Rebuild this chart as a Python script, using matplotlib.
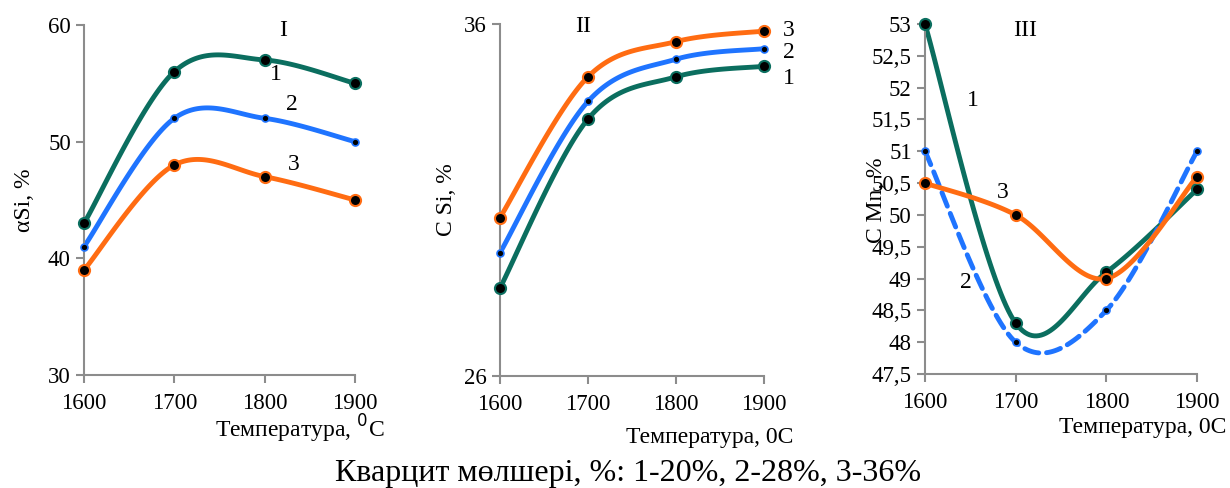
import matplotlib
matplotlib.use("Agg")
import matplotlib.pyplot as plt
import numpy as np

plt.rcParams['font.family'] = ['Liberation Serif', 'DejaVu Serif']

# Data
temps = [1600, 1700, 1800, 1900]

si_alpha_1 = [43, 56, 57, 55]
si_alpha_2 = [41, 52, 52, 50]
si_alpha_3 = [39, 48, 47, 45]

c_si_1 = [28.5, 33.3, 34.5, 34.8]
c_si_2 = [29.5, 33.8, 35.0, 35.3]
c_si_3 = [30.5, 34.5, 35.5, 35.8]

c_mn_1 = [53.0, 48.3, 49.1, 50.4]
c_mn_2 = [51.0, 48.0, 48.5, 51.0]
c_mn_3 = [50.5, 50.0, 49.0, 50.6]

GREEN = "#0b6e5f"
BLUE = "#1f74ff"
ORANGE = "#ff6c12"
AXC = "#8c8c8c"
FS = 17


def smooth(x, y, n=40):
    # Excel-like smoothed line: cubic Bezier with Catmull-Rom control points
    x = np.asarray(x, float)
    y = np.asarray(y, float)
    px = np.concatenate([[x[0]], x, [x[-1]]])
    py = np.concatenate([[y[0]], y, [y[-1]]])
    xs, ys = [], []
    t = np.linspace(0, 1, n)
    for i in range(1, len(px) - 2):
        p0 = np.array([px[i], py[i]])
        p3 = np.array([px[i + 1], py[i + 1]])
        p1 = p0 + (np.array([px[i + 1], py[i + 1]]) - np.array([px[i - 1], py[i - 1]])) / 6
        p2 = p3 - (np.array([px[i + 2], py[i + 2]]) - np.array([px[i], py[i]])) / 6
        b = ((1 - t) ** 3)[:, None] * p0 + (3 * (1 - t) ** 2 * t)[:, None] * p1 \
            + (3 * (1 - t) * t ** 2)[:, None] * p2 + (t ** 3)[:, None] * p3
        xs.append(b[:, 0])
        ys.append(b[:, 1])
    return np.concatenate(xs), np.concatenate(ys)


def draw(ax, y, color, big=True, dashed=False):
    sx, sy = smooth(temps, y)
    ax.plot(sx, sy, color=color, lw=3.5, ls=(0, (3, 1.6)) if dashed else '-',
            solid_capstyle='round', dash_capstyle='round', clip_on=False, zorder=2)
    ax.plot(temps, y, ls='none', marker='o', ms=8 if big else 5,
            mfc='black', mec=color, mew=1.5 if big else 1.2, clip_on=False, zorder=3)


def style(ax, ylim, yticks, ylabels=None):
    ax.set_xlim(1600, 1900)
    ax.set_ylim(*ylim)
    ax.set_xticks(temps)
    ax.set_yticks(yticks)
    if ylabels is not None:
        ax.set_yticklabels(ylabels)
    for s in ['top', 'right']:
        ax.spines[s].set_visible(False)
    for s in ['left', 'bottom']:
        ax.spines[s].set_color(AXC)
        ax.spines[s].set_linewidth(1.5)
    ax.tick_params(colors=AXC, width=1.5, length=6, labelsize=16.5, labelcolor='black')
    ax.tick_params(axis='x', pad=7)


def txt(x, y, s, **kw):
    # place text by pixel position measured from the top-left corner
    kw.setdefault('fontsize', FS)
    fig.text(x / 1230, 1 - y / 488, s, ha='center', va='center', **kw)


fig = plt.figure(figsize=(12.3, 4.88), dpi=100)

# Panel I
ax1 = fig.add_axes([0.0683, 0.2316, 0.2203, 0.7172])
style(ax1, (30, 60), [30, 40, 50, 60])
draw(ax1, si_alpha_1, GREEN)
draw(ax1, si_alpha_2, BLUE, big=False)
draw(ax1, si_alpha_3, ORANGE)
txt(24, 200, "αSi, %", rotation=90)
txt(300, 429, "Температура, $^0$C")
txt(283, 30, "I")
txt(276, 75, "1")
txt(292, 105, "2")
txt(294, 165, "3")

# Panel II
ax2 = fig.add_axes([0.4065, 0.2295, 0.2146, 0.7213])
style(ax2, (26, 36), [26, 36])
draw(ax2, c_si_1, GREEN)
draw(ax2, c_si_2, BLUE, big=False)
draw(ax2, c_si_3, ORANGE)
txt(447, 200, "C Si, %", rotation=90)
txt(710, 437, "Температура, 0C")
txt(583, 27, "II")
txt(789, 30, "3")
txt(789, 52, "2")
txt(789, 78, "1")

# Panel III
mn_ticks = [47.5, 48, 48.5, 49, 49.5, 50, 50.5, 51, 51.5, 52, 52.5, 53]
mn_labels = [f"{v:g}".replace('.', ',') for v in mn_ticks]
ax3 = fig.add_axes([0.752, 0.2336, 0.2212, 0.7172])
style(ax3, (47.5, 53), mn_ticks, mn_labels)
draw(ax3, c_mn_1, GREEN)
draw(ax3, c_mn_2, BLUE, big=False, dashed=True)
draw(ax3, c_mn_3, ORANGE)
txt(876, 200, "C Mn, %", rotation=90)
txt(1143, 428, "Температура, 0C")
txt(1025, 30, "III")
txt(973, 100, "1")
txt(1003, 193, "3")
txt(966, 283, "2")

txt(628, 473, "Кварцит мөлшері, %: 1-20%, 2-28%, 3-36%", fontsize=23)

fig.savefig("out.png", dpi=100)
